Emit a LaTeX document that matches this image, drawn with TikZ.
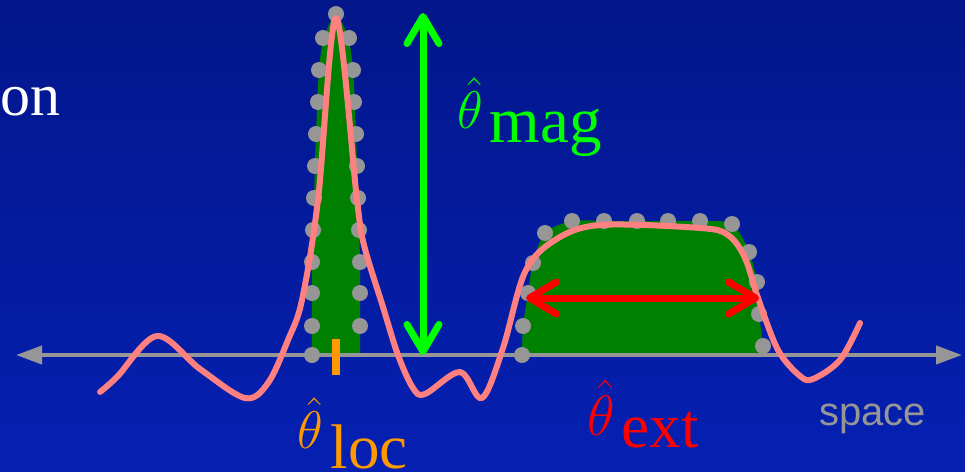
\documentclass[tikz,border=0pt]{standalone}
\usepackage{fix-cm}
\usepackage{fontspec}
\setmainfont{Liberation Serif}
\setsansfont{Liberation Sans}
\usetikzlibrary{arrows.meta}
\definecolor{bgtop}{RGB}{3,22,138}
\definecolor{bgbot}{RGB}{5,32,178}
\definecolor{qgreen}{RGB}{0,255,0}
\definecolor{qfill}{RGB}{0,128,0}
\definecolor{qgrey}{RGB}{150,150,150}
\definecolor{qpink}{RGB}{255,128,128}
\definecolor{qorange}{RGB}{255,153,0}
\definecolor{qred}{RGB}{255,0,0}
\begin{document}
\begin{tikzpicture}[x=1pt,y=-1pt,
  dot/.style={fill=qgrey,draw=none},
  lbl/.style={inner sep=0pt,anchor=base west},
  barb/.style={line width=7pt,{Straight Barb[length=27pt,width=32pt,round]}-{Straight Barb[length=27pt,width=32pt,round]}},
  axis/.style={line width=4pt,qgrey,{Triangle[length=26pt,width=18pt]}-{Triangle[length=26pt,width=18pt]}}]
\useasboundingbox (0,0) rectangle (965,471);
\shade[top color=bgtop,bottom color=bgbot] (0,0) rectangle (965,471);
% green areas
\fill[qfill] plot[smooth,tension=0.5] coordinates {(312,355) (312,262) (314,198) (316,134) (319,70) (324,38) (336,14) (348,38) (353,70) (356,134) (358,198) (360,262) (360,355)} -- cycle;
\fill[qfill] plot[smooth,tension=0.5] coordinates {(522,355) (523,326) (528,293) (533,263) (545,233) (572,221) (604,221) (668,221) (700,221) (732,224) (749,252) (757,282) (759,314) (763,346) (763,355)} -- cycle;
% axis
\coordinate (axl) at (16,355);
\coordinate (axr) at (962,355);
\draw[axis] (axl) -- (axr);
% sample points
\foreach \p in {(312,355),(312,326),(312,293),(312,262),(313,230),(314,198),(315,166),(316,134),(318,102),(319,70),(323,38),(336,14),(349,38),(353,70),(354,102),(356,134),(357,166),(358,198),(359,230),(360,262),(360,293),(360,326)}
  \fill[dot] \p circle (8);
\foreach \p in {(522,355),(523,326),(528,293),(533,263),(545,233),(572,221),(604,221),(637,221),(668,221),(700,221),(732,224),(749,252),(757,282),(759,314),(763,346)}
  \fill[dot] \p circle (8);
% fitted curve
\draw[qpink,line width=6pt,line cap=round,line join=round] plot[smooth,tension=0.55] coordinates {(100,392) (117,377) (157,336) (200,369) (245,398) (268,383) (288,340) (302,300) (318,200) (336,18) (357,200) (364,245) (383,307) (398,355) (413,388) (425,394) (460,372) (482,398) (503,348) (525,272) (555,240) (600,225) (700,228) (728,235) (745,258) (758,298) (778,350) (800,376) (813,379) (840,360) (860,323)};
% parameters
\coordinate (magtop) at (423,13);
\coordinate (magbot) at (423,355);
\draw[barb,qgreen] (magtop) -- (magbot);
\coordinate (extl) at (526,298);
\coordinate (extr) at (759,298);
\draw[barb,qred] (extl) -- (extr);
\coordinate (loct) at (336,339);
\coordinate (locb) at (336,375);
\draw[qorange,line width=8pt] (loct) -- (locb);
% labels
\node[lbl,text=qgreen] (magl) at (457,128) {\fontsize{53}{53}\selectfont$\hat{\theta}$\hspace{7pt}\fontsize{65}{65}\selectfont\raisebox{-14pt}{mag}};
\node[lbl,text=qorange] (locl) at (297,448) {\fontsize{53}{53}\selectfont$\hat{\theta}$\hspace{8pt}\fontsize{63}{63}\selectfont\raisebox{-20pt}{loc}};
\node[lbl,text=qred] (extnl) at (587,435) {\fontsize{57}{57}\selectfont$\hat{\theta}$\hspace{7pt}\fontsize{63}{63}\selectfont\raisebox{-12pt}{ext}};
\node[inner sep=0pt,anchor=base west,text=qgrey,font=\sffamily\fontsize{40}{40}\selectfont] (spl) at (819,425) {space};
\node[inner sep=0pt,anchor=base east,text=white,font=\fontsize{60}{60}\selectfont] (onl) at (61,115) {on};
\end{tikzpicture}
\end{document}
